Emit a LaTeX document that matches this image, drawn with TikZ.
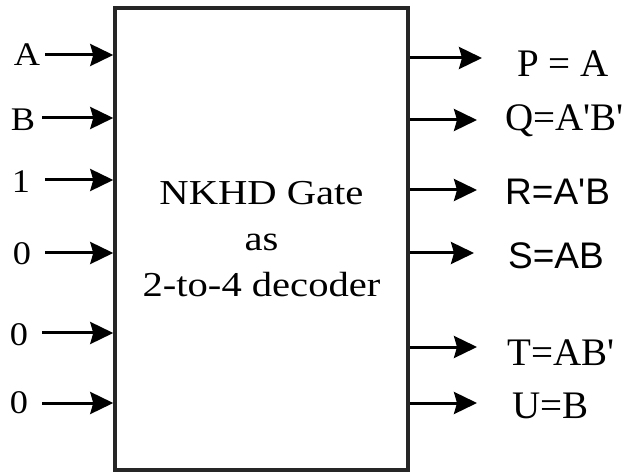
\documentclass[tikz,border=0pt]{standalone}
\usepackage{fontspec}
\setmainfont{Liberation Serif}
\newfontfamily\lblfont[FakeStretch=1.1]{Liberation Serif}
\newfontfamily\gatefont[FakeStretch=1.16]{Liberation Serif}
\newfontfamily\sansout{Liberation Sans}
\usetikzlibrary{arrows.meta,positioning}

\begin{document}
\begin{tikzpicture}[
    x=1pt, y=1pt,
    gate/.style={rectangle, draw=black!85, line width=3.5pt, minimum width=293pt, minimum height=462pt, align=center, font=\gatefont\fontsize{35}{46}\selectfont, inner sep=0pt},
    inlbl/.style={inner sep=0pt, anchor=base, font=\lblfont\fontsize{33}{38}\selectfont},
    outlbl/.style={inner sep=0pt, anchor=base west, font=\fontsize{39}{44}\selectfont},
    outsans/.style={outlbl, font=\sansout\fontsize{37}{44}\selectfont},
    arrow/.style={-{Stealth[length=23pt, width=22pt, inset=3pt]}, line width=3pt, draw=black},
]
    \useasboundingbox (0,0) rectangle (627,-473);

    \node[gate] (gate) at (261.5,-239) {NKHD Gate\\as\\2-to-4 decoder};

    % inputs
    \node[inlbl] (lA)  at (27,-66)  {A};
    \node[inlbl] (lB)  at (23,-131) {B};
    \node[inlbl] (l1)  at (21,-193) {1};
    \node[inlbl] (l0a) at (22,-265) {0};
    \node[inlbl] (l0b) at (19,-345) {0};
    \node[inlbl] (l0c) at (19,-413) {0};

    \coordinate (sA)  at (45,-55);
    \coordinate (sB)  at (42,-118);
    \coordinate (s1)  at (45,-180);
    \coordinate (s0a) at (45,-253);
    \coordinate (s0b) at (42,-333);
    \coordinate (s0c) at (42,-403);

    \draw[arrow] (sA)  -- (sA -| gate.west);
    \draw[arrow] (sB)  -- (sB -| gate.west);
    \draw[arrow] (s1)  -- (s1 -| gate.west);
    \draw[arrow] (s0a) -- (s0a -| gate.west);
    \draw[arrow] (s0b) -- (s0b -| gate.west);
    \draw[arrow] (s0c) -- (s0c -| gate.west);

    % outputs
    \node[outlbl]  (oP) at (517,-77)  {P = A};
    \node[outlbl]  (oQ) at (505,-131) {Q=A\textquotesingle B\textquotesingle};
    \node[outsans] (oR) at (505,-205) {R=A\textquotesingle B};
    \node[outsans] (oS) at (508,-269) {S=AB};
    \node[outlbl]  (oT) at (507,-366) {T=AB\textquotesingle};
    \node[outlbl]  (oU) at (512,-418) {U=B};

    \coordinate (tP) at (482,-58);
    \coordinate (tQ) at (477,-120);
    \coordinate (tR) at (477,-190);
    \coordinate (tS) at (474,-253);
    \coordinate (tT) at (477,-347);
    \coordinate (tU) at (477,-403);

    \draw[arrow] (tP -| gate.east) -- (tP);
    \draw[arrow] (tQ -| gate.east) -- (tQ);
    \draw[arrow] (tR -| gate.east) -- (tR);
    \draw[arrow] (tS -| gate.east) -- (tS);
    \draw[arrow] (tT -| gate.east) -- (tT);
    \draw[arrow] (tU -| gate.east) -- (tU);

\end{tikzpicture}
\end{document}
